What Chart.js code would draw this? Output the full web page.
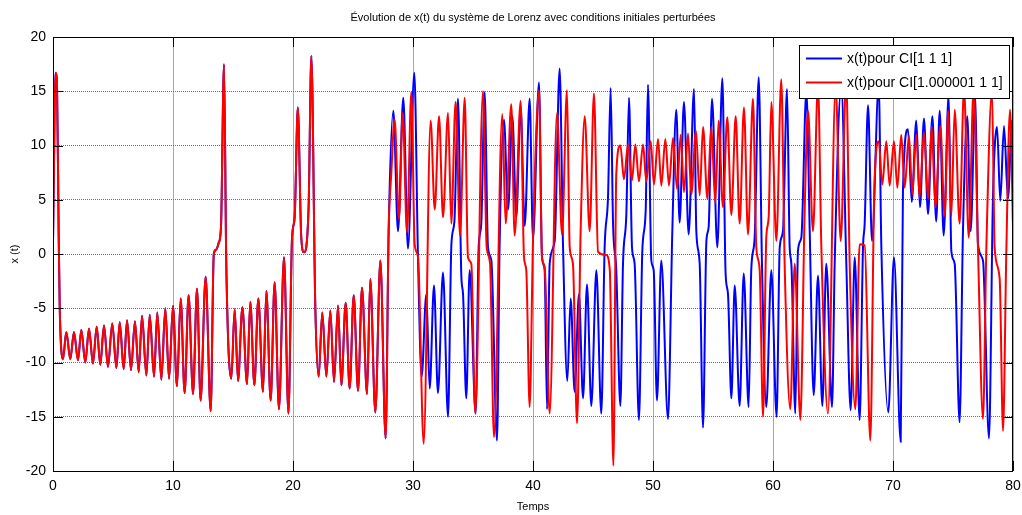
<!DOCTYPE html>
<html><head><meta charset="utf-8">
<script src="https://cdn.jsdelivr.net/npm/chart.js@4.4.1/dist/chart.umd.min.js"></script>
<style>html,body{margin:0;padding:0;background:#fff;}#wrap{position:relative;width:1022px;height:515px;}</style>
</head><body><div id="wrap"><canvas id="c" width="1022" height="515"></canvas></div>
<script>
const titleText = "Évolution de x(t) du système de Lorenz avec conditions initiales perturbées";
const xTitle = "Temps";
const yTitle = "x (t)";
const legendLabels = ["x(t)pour CI[1 1 1]", "x(t)pour CI[1.000001 1 1]"];
const xTicks = [0, 10, 20, 30, 40, 50, 60, 70, 80];
const yTicks = [-20, -15, -10, -5, 0, 5, 10, 15, 20];

// common part (both initial conditions give the same curve until ~t=27.7)
const tShared = [0,0.08,0.19,0.33,0.47,0.56,0.83,1.11,1.44,1.75,2.08,2.36,2.69,3.0,3.33,3.64,3.94,4.25,4.58,4.94,5.28,5.56,5.89,6.17,6.5,6.83,7.14,7.42,7.78,8.06,8.42,8.69,9.03,9.36,9.67,10.0,10.33,10.64,10.97,11.3,11.67,12.0,12.3,12.72,13.14,13.4,13.6,13.8,14.0,14.25,14.44,14.86,15.14,15.42,15.78,16.17,16.44,16.78,17.11,17.5,17.78,18.14,18.47,18.83,19.25,19.62,19.92,20.14,20.4,20.69,20.92,21.3,21.53,21.86,22.14,22.44,22.78,23.11,23.42,23.75,24.03,24.39,24.72,25.06,25.42,25.75,26.17,26.44,26.86,27.28,27.72];
const xShared = [1,8,16.7,16.0,2.1,-4.9,-9.7,-7.2,-9.7,-7.2,-9.8,-7.0,-10.0,-6.9,-10.1,-6.7,-10.2,-6.6,-10.4,-6.4,-10.5,-6.3,-10.6,-6.1,-10.7,-6.2,-10.9,-5.7,-11.2,-5.6,-11.3,-5.4,-11.6,-5.0,-11.5,-4.8,-12.2,-4.1,-12.8,-3.8,-12.9,-3.2,-13.5,-2.1,-14.5,0.0,0.4,1.0,2.5,17.5,-0.9,-11.5,-5.1,-11.7,-4.9,-12.0,-4.4,-12.1,-4.1,-12.7,-3.4,-13.5,-2.6,-14.3,-0.3,-14.7,1.5,3.4,13.5,1.5,0.15,4.3,18.25,-4.9,-11.3,-5.4,-11.3,-5.2,-11.8,-4.75,-12.1,-4.5,-12.4,-3.8,-12.6,-3.1,-12.9,-2.3,-14.6,-0.6,-17.0];

// blue: CI [1 1 1], after divergence
const tBlue = [27.97,28.36,28.75,29.19,29.58,30.11,30.42,30.72,31.11,31.39,31.75,32.08,32.5,32.92,33.2,33.45,33.75,34.03,34.17,34.44,34.72,35.22,35.47,35.69,35.97,36.25,36.53,37.0,37.22,37.58,37.92,38.28,38.61,38.97,39.31,39.72,40.0,40.5,40.75,40.97,41.17,41.39,41.81,42.22,42.5,42.86,43.14,43.47,43.83,44.17,44.5,44.86,45.28,45.69,45.97,46.25,46.47,46.67,46.94,47.28,47.5,47.78,48.0,48.25,48.47,48.83,49.11,49.39,49.58,49.86,50.06,50.33,50.69,51.25,51.61,51.94,52.22,52.58,52.97,53.42,53.61,53.89,54.17,54.45,54.64,54.92,55.36,55.78,56.05,56.25,56.53,56.81,57.22,57.56,57.97,58.19,58.47,58.81,59.08,59.44,59.86,60.3,60.56,60.83,61.17,61.39,61.53,61.86,62.08,62.36,62.78,63.06,63.39,63.75,64.11,64.44,64.92,65.14,65.69,66.11,66.47,66.81,67.22,67.5,67.64,67.92,68.25,68.81,69.03,69.61,70.08,70.64,70.83,71.25,71.56,71.94,72.25,72.58,72.92,73.28,73.6,73.89,74.22,74.64,74.86,75.14,75.55,75.83,76.19,76.47,76.86,77.08,77.5,78.0,78.33,78.67,78.94,79.25,79.58,79.92,80.0];
const xBlue = [2.1,13.2,2.1,14.4,0.5,16.7,-0.6,-11.3,-3.7,-12.4,-2.9,-12.8,-1.7,-15.0,0.9,3.0,14.3,-2.1,-3.7,-13.3,-1.5,-14.7,0.6,2.8,14.9,0.6,-0.6,-17.2,0.9,12.4,4.1,12.7,3.4,13.5,2.6,14.3,1.4,15.8,-0.3,-1.5,-14.3,-0.9,1.2,17.1,0.9,-11.7,-4.1,-12.7,-3.7,-13.3,-2.8,-14.0,-1.5,-14.7,0.6,5.2,15.3,2.8,-1.5,-14.0,-0.9,3.7,14.4,0.6,-0.9,-15.3,0.3,4.0,15.6,-0.6,-1.5,-13.5,-0.6,-15.2,2.1,13.3,2.9,14.0,1.8,15.2,2.1,-0.9,-16.0,1.2,2.5,14.3,0.6,16.2,-1.8,-3.7,-13.3,-2.9,-14.0,-1.8,-14.1,-1.4,1.5,16.3,-0.9,-14.1,-1.5,-15.0,0.6,2.1,15.2,0.6,-0.9,-14.7,0.3,1.5,15.0,2.1,-13.0,-2.0,-14.0,-0.9,-14.1,-0.9,15.5,-0.9,-14.4,-0.3,-15.3,0.6,2.8,13.7,1.2,15.5,0.6,-14.6,-0.3,-17.3,5.9,11.5,4.8,12.3,4.3,12.5,3.7,12.7,3.0,13.2,1.7,14.7,0.3,-0.9,-15.5,2.1,12.7,2.1,14.7,0.9,-0.6,-17.0,5.2,11.7,4.9,11.8,5.1,12.3,11.0];

// red: CI [1.000001 1 1], after divergence
const tRed = [27.97,28.19,28.47,28.83,29.14,29.5,29.86,30.14,30.42,30.89,31.47,31.81,32.17,32.5,32.92,33.19,33.55,33.92,34.31,34.58,34.86,35.19,35.83,36.14,36.42,36.75,37.44,37.72,38.19,38.47,38.97,39.25,39.44,39.72,40.0,40.5,40.75,40.97,41.39,42.0,42.42,42.83,43.06,43.33,43.67,43.97,44.31,44.72,45.08,45.42,46.1,46.4,46.7,46.94,47.28,47.58,47.92,48.25,48.53,48.83,49.17,49.44,49.81,50.08,50.42,50.69,51.03,51.33,51.67,52.0,52.31,52.58,52.92,53.19,53.58,53.89,54.17,54.53,54.86,55.19,55.47,55.83,56.19,56.53,56.89,57.22,57.58,57.92,58.33,58.61,58.89,59.17,59.44,59.64,59.86,60.28,60.69,60.97,61.44,61.81,62.28,62.64,62.92,63.33,63.75,64.03,64.58,65.22,65.64,66.1,66.39,66.86,67.22,67.64,68.11,68.44,68.81,69.11,69.44,69.72,70.08,70.36,70.69,70.97,71.33,71.61,71.94,72.22,72.58,72.92,73.22,73.53,73.94,74.31,74.6,74.86,75.14,75.55,75.92,76.31,76.72,77.08,77.5,77.78,78.25,78.47,78.89,79.17,79.44,79.75,80.0];
const xRed = [2.1,7.4,12.4,3.2,13.0,2.0,14.9,0.9,-0.3,-17.5,12.3,4.1,12.7,3.4,13.0,2.8,14.0,1.7,14.4,-0.3,-0.9,-14.7,15.0,0.6,-0.9,-16.9,12.9,2.8,13.8,1.7,14.1,-0.3,-1.5,-14.1,1.2,15.1,-0.3,-1.2,-14.7,13.0,1.8,15.1,0.6,-0.9,-15.6,2.1,12.7,2.1,14.8,0.2,-0.1,-1.5,-19.5,7.4,10.0,6.9,10.1,6.8,10.1,6.7,10.1,6.7,10.4,6.4,10.6,6.3,10.6,6.3,10.7,6.0,11.0,5.7,11.1,5.5,11.35,5.4,11.7,5.1,11.7,4.7,12.3,4.3,12.6,3.6,12.7,2.8,13.5,1.8,14.3,0.6,-1.5,-15.0,1.5,3.4,14.0,1.2,16.1,-0.9,-14.3,-0.9,-15.3,4.0,13.2,2.1,15.6,0.6,-14.7,15.5,1.2,16.0,-0.9,-14.3,0.9,0.8,-17.2,5.9,10.4,6.4,10.4,6.3,10.4,6.1,11.0,6.1,10.9,5.5,11.0,5.2,11.3,5.1,11.8,4.3,11.8,3.5,13.2,3.5,13.3,2.8,15.3,1.5,15.3,0.6,-15.2,0.6,15.0,0.6,-2.3,-16.3,0.0,13.3,2.5];

const toPts = (ts, xs) => ts.map((t, i) => ({ x: t, y: xs[i] }));
const blueData = toPts(tShared.concat(tBlue), xShared.concat(xBlue));
const redData = toPts(tShared.concat(tRed), xShared.concat(xRed));

const FONT = "'Liberation Sans', Arial, sans-serif";

const framePlugin = {
  id: 'frame',
  afterDatasetsDraw(chart) {
    const { ctx, chartArea: a, scales } = chart;
    ctx.save();
    ctx.strokeStyle = '#000';
    ctx.lineWidth = 1;
    ctx.strokeRect(Math.round(a.left) + 0.5, Math.round(a.top) + 0.5, Math.round(a.right - a.left) - 1, Math.round(a.bottom - a.top));
    const L = 10;
    ctx.beginPath();
    xTicks.forEach(v => {
      const px = Math.round(scales.x.getPixelForValue(v)) + 0.5;
      ctx.moveTo(px, a.bottom); ctx.lineTo(px, a.bottom - L);
      ctx.moveTo(px, a.top); ctx.lineTo(px, a.top + L);
    });
    yTicks.forEach(v => {
      const py = Math.round(scales.y.getPixelForValue(v)) + 0.5;
      ctx.moveTo(a.left, py); ctx.lineTo(a.left + L, py);
      ctx.moveTo(a.right, py); ctx.lineTo(a.right - L, py);
    });
    ctx.stroke();
    ctx.fillStyle = '#000';
    ctx.font = '11px ' + FONT;
    ctx.textAlign = 'center';
    ctx.textBaseline = 'middle';
    ctx.fillText(titleText, (a.left + a.right) / 2, 18);
    ctx.restore();
  }
};

const legendPlugin = {
  id: 'boxLegend',
  afterDatasetsDraw(chart) {
    const { ctx, chartArea: a } = chart;
    ctx.save();
    ctx.font = '14px ' + FONT;
    const tw = Math.max(...legendLabels.map(s => ctx.measureText(s).width));
    const w = Math.round(48 + tw + 6), h = 53;
    const right = Math.round(a.right) - 4, top = Math.round(a.top) + 8;
    const left = right - w;
    ctx.fillStyle = '#fff';
    ctx.fillRect(left, top, w, h);
    ctx.strokeStyle = '#000';
    ctx.lineWidth = 1;
    ctx.strokeRect(left + 0.5, top + 0.5, w, h);
    const colors = chart.data.datasets.map(d => d.borderColor);
    legendLabels.forEach((s, i) => {
      const y = top + 13.5 + i * 24;
      ctx.strokeStyle = colors[i];
      ctx.lineWidth = 2;
      ctx.beginPath(); ctx.moveTo(left + 7, y); ctx.lineTo(left + 43, y); ctx.stroke();
      ctx.fillStyle = '#000';
      ctx.textAlign = 'left';
      ctx.textBaseline = 'middle';
      ctx.fillText(s, left + 48, y + 0.5);
    });
    ctx.restore();
  }
};

new Chart(document.getElementById('c'), {
  type: 'line',
  data: {
    datasets: [
      { label: legendLabels[0], data: blueData, borderColor: '#0000ff', borderWidth: 2, pointRadius: 0, cubicInterpolationMode: 'monotone', order: 1 },
      { label: legendLabels[1], data: redData, borderColor: '#ff0000', borderWidth: 2, pointRadius: 0, cubicInterpolationMode: 'monotone', order: 0 }
    ]
  },
  options: {
    responsive: false,
    animation: false,
    devicePixelRatio: 1,
    layout: { padding: { left: 0, right: 9, top: 37, bottom: 0 } },
    plugins: { legend: { display: false }, tooltip: { enabled: false }, title: { display: false } },
    scales: {
      x: {
        type: 'linear', min: 0, max: 80,
        afterBuildTicks: s => { s.ticks = xTicks.map(v => ({ value: v })); },
        afterFit: s => { s.height = 44; s.paddingLeft = 0; s.paddingRight = 0; },
        grid: { color: '#a8a8a8', lineWidth: 1, drawTicks: false },
        border: { display: false },
        ticks: { color: '#000', font: { family: FONT, size: 14 }, padding: 7, maxRotation: 0, callback: v => String(v) },
        title: { display: true, text: xTitle, color: '#000', font: { family: FONT, size: 11 }, padding: { top: 0, bottom: 1 } }
      },
      y: {
        type: 'linear', min: -20, max: 20,
        afterBuildTicks: s => { s.ticks = yTicks.map(v => ({ value: v })); },
        afterFit: s => { s.width = 53; s.paddingTop = 0; s.paddingBottom = 0; },
        grid: { color: '#707070', lineWidth: 1, drawTicks: false },
        border: { display: false, dash: [1, 1] },
        ticks: { color: '#000', font: { family: FONT, size: 14 }, padding: 7, callback: v => String(v) },
        title: { display: true, text: yTitle, color: '#000', font: { family: FONT, size: 11 }, padding: { top: 8, bottom: 0 } }
      }
    }
  },
  plugins: [framePlugin, legendPlugin]
});
</script>
</body></html>
